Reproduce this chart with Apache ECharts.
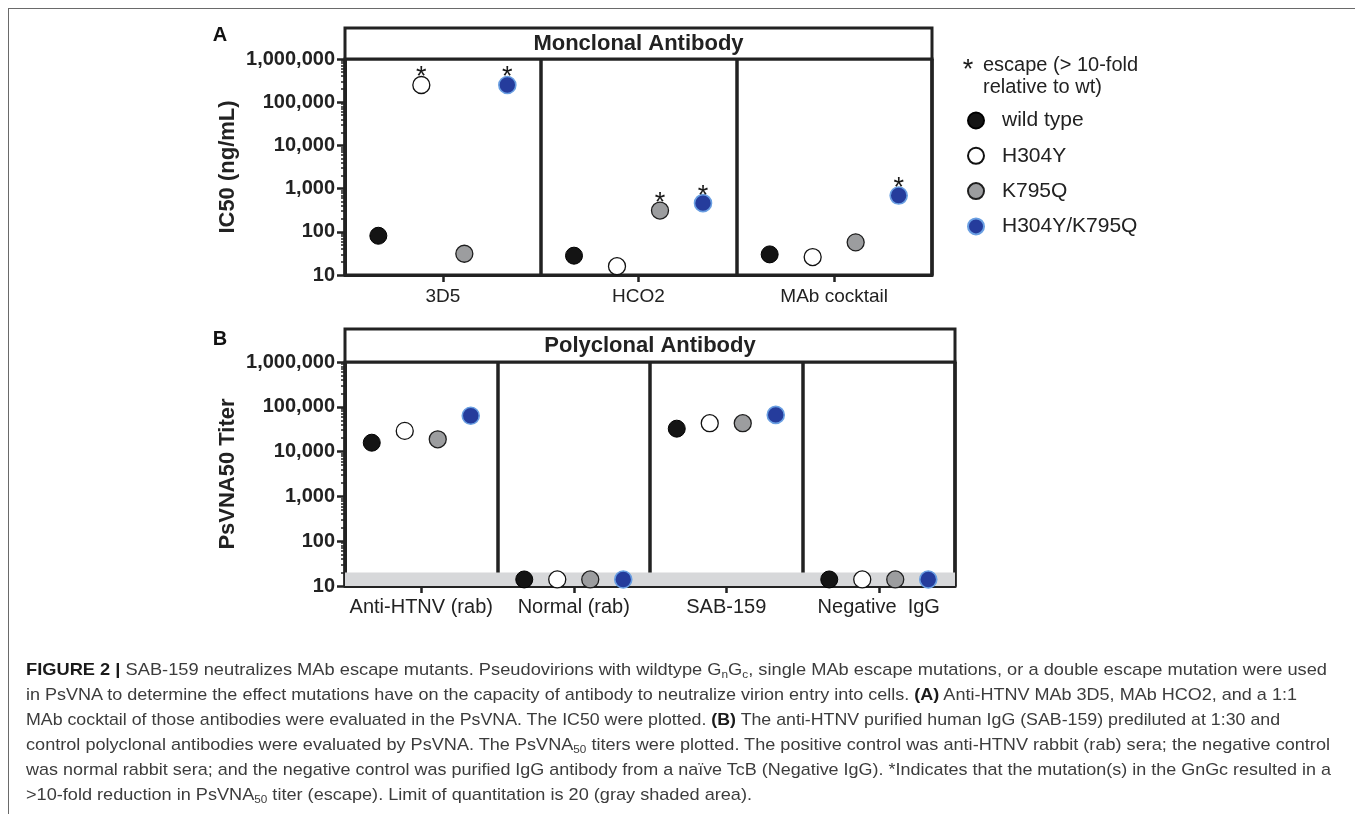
<!DOCTYPE html>
<html>
<head>
<meta charset="utf-8">
<script src="https://cdn.jsdelivr.net/npm/echarts@6/dist/echarts.min.js"></script>
<style>
  html, body { margin: 0; padding: 0; background: #fff; }
  #wrap { position: relative; width: 1355px; height: 814px; overflow: hidden; }
  #chart { position: absolute; left: 0; top: 0; width: 1355px; height: 814px; }
  #frame { position: absolute; left: 8px; top: 8px; width: 1350px; height: 820px;
           border-top: 1.5px solid #6a6a6a; border-left: 1.5px solid #6a6a6a; }
  #caption { position: absolute; left: 26px; top: 657px; width: 1320px; font-family: "Liberation Sans", Arial, sans-serif;
             font-size: 17px; color: #3c3c3c; line-height: 25px; }
  #caption div { white-space: nowrap; height: 25px; }
  #caption span.ln { display: inline-block; white-space: nowrap; transform-origin: 0 50%; }
  #caption b { color: #1a1a1a; }
  #caption sub { font-size: 11px; vertical-align: -3px; line-height: 0; }
</style>
</head>
<body>
<div id="wrap">
  <div id="chart"></div>
  <div id="frame"></div>
  <div id="caption">
    <div><span class="ln" data-end="1327"><b>FIGURE 2 |</b> SAB-159 neutralizes MAb escape mutants. Pseudovirions with wildtype G<sub>n</sub>G<sub>c</sub>, single MAb escape mutations, or a double escape mutation were used</span></div>
    <div><span class="ln" data-end="1297">in PsVNA to determine the effect mutations have on the capacity of antibody to neutralize virion entry into cells. <b>(A)</b> Anti-HTNV MAb 3D5, MAb HCO2, and a 1:1</span></div>
    <div><span class="ln" data-end="1280">MAb cocktail of those antibodies were evaluated in the PsVNA. The IC50 were plotted. <b>(B)</b> The anti-HTNV purified human IgG (SAB-159) prediluted at 1:30 and</span></div>
    <div><span class="ln" data-end="1330">control polyclonal antibodies were evaluated by PsVNA. The PsVNA<sub>50</sub> titers were plotted. The positive control was anti-HTNV rabbit (rab) sera; the negative control</span></div>
    <div><span class="ln" data-end="1331">was normal rabbit sera; and the negative control was purified IgG antibody from a naïve TcB (Negative IgG). *Indicates that the mutation(s) in the GnGc resulted in a</span></div>
    <div><span class="ln" data-end="752">&gt;10-fold reduction in PsVNA<sub>50</sub> titer (escape). Limit of quantitation is 20 (gray shaded area).</span></div>
  </div>
</div>
<script>
// ---------------- data ----------------
const groupsA = ['3D5', 'HCO2', 'MAb cocktail'];
const groupsB = ['Anti-HTNV (rab)', 'Normal (rab)', 'SAB-159', 'Negative  IgG'];
const seriesNames = ['wild type', 'H304Y', 'K795Q', 'H304Y/K795Q'];

// Panel A: IC50 (ng/mL)
const wildTypeA   = [81, 28, 30];
const h304yA      = [250000, 16, 26];
const k795qA      = [31, 310, 57];
const h304yK795qA = [250000, 460, 690];
// escape (> 10-fold relative to wt) flags
const escWildTypeA   = [0, 0, 0];
const escH304yA      = [1, 0, 0];
const escK795qA      = [0, 1, 0];
const escH304yK795qA = [1, 1, 1];

// Panel B: PsVNA50 titer
const wildTypeB   = [15800, 14, 32500, 14];
const h304yB      = [29000, 14, 43000, 14];
const k795qB      = [18800, 14, 43000, 14];
const h304yK795qB = [63000, 14, 66000, 14];

const yMin = 10, yMax = 1000000;
const LOQ = 20; // limit of quantitation
const minorMultipliers = [2, 3, 4, 5, 6, 7, 8, 9];
const decades = [10, 100, 1000, 10000, 100000];

// ---------------- styling ----------------
const FONT = '"Liberation Sans", Arial, sans-serif';
const INK = '#222';
const markerStyles = [
  { color: '#141414', borderColor: '#000', borderWidth: 1, opacity: 1 },
  { color: '#ffffff', borderColor: '#111', borderWidth: 1.3, opacity: 1 },
  { color: '#9c9d9f', borderColor: '#1e1e1e', borderWidth: 1.3, opacity: 1 },
  { color: '#253c9c', borderColor: '#6a9fe2', borderWidth: 1.6, opacity: 1 }
];
const valsA = [wildTypeA, h304yA, k795qA, h304yK795qA];
const escA = [escWildTypeA, escH304yA, escK795qA, escH304yK795qA];
const valsB = [wildTypeB, h304yB, k795qB, h304yK795qB];
const offsetsA = [-64.5, -21.5, 21.5, 64.5];
const offsetsB = [-49.5, -16.5, 16.5, 49.5];

const minorTicks = [];
decades.forEach(d => minorMultipliers.forEach(m => minorTicks.push(d * m)));

const gridA = { left: 345, top: 59, width: 587, height: 216 };
const gridB = { left: 345, top: 362, width: 610, height: 224 };

function fmt(v) { return Math.round(v).toLocaleString('en-US'); }

function mainY(gi, name, gap) {
  return {
    type: 'log', gridIndex: gi, logBase: 10, min: yMin, max: yMax, splitNumber: 5,
    name: name, nameLocation: 'middle', nameGap: gap, nameRotate: 90,
    nameTextStyle: { fontFamily: FONT, fontWeight: 'bold', fontSize: 22, color: INK },
    axisLine: { show: true, lineStyle: { color: INK, width: 3 } },
    axisTick: { show: true, inside: false, length: 8, lineStyle: { color: INK, width: 2.5 } },
    axisLabel: { formatter: fmt, fontFamily: FONT, fontWeight: 'bold', fontSize: 20, color: INK, margin: 10 },
    splitLine: { show: false }
  };
}
function minorY(gi) {
  return {
    type: 'log', gridIndex: gi, logBase: 10, min: yMin, max: yMax, position: 'left',
    axisLine: { show: false },
    axisLabel: { show: false },
    splitLine: { show: false },
    axisTick: { show: true, inside: false, length: 4, customValues: minorTicks, lineStyle: { color: INK, width: 1.5 } }
  };
}
function catX(gi, data, fs, margin) {
  return {
    type: 'category', gridIndex: gi, data: data, boundaryGap: true,
    axisLine: { show: true, lineStyle: { color: INK, width: 3 } },
    axisTick: { show: true, alignWithLabel: true, length: 7, lineStyle: { color: INK, width: 2.5 } },
    axisLabel: { fontFamily: FONT, fontSize: fs, color: INK, margin: margin, interval: 0 },
    splitLine: { show: true, lineStyle: { color: INK, width: 3.5 } }
  };
}

const series = [];
seriesNames.forEach((nm, i) => {
  series.push({
    type: 'scatter', name: nm, xAxisIndex: 0, yAxisIndex: 0, z: 5,
    data: valsA[i].map((v, j) => [groupsA[j], v]),
    symbol: 'circle', symbolSize: 17, symbolOffset: [offsetsA[i], 0],
    itemStyle: markerStyles[i],
    label: {
      show: true, position: 'inside', offset: [0, -7],
      formatter: p => escA[i][p.dataIndex] ? '*' : '',
      fontFamily: FONT, fontSize: 27, color: '#1a1a1a'
    },
    emphasis: { disabled: true }
  });
});
seriesNames.forEach((nm, i) => {
  series.push({
    type: 'scatter', name: nm, xAxisIndex: 1, yAxisIndex: 1, z: 5,
    data: valsB[i].map((v, j) => [groupsB[j], v]),
    symbol: 'circle', symbolSize: 17, symbolOffset: [offsetsB[i], 0],
    itemStyle: markerStyles[i],
    emphasis: { disabled: true }
  });
});
// limit of quantitation band (under the axis lines)
series.push({
  type: 'line', name: 'LOQ', xAxisIndex: 1, yAxisIndex: 1, z: -1, data: [],
  silent: true,
  markArea: {
    silent: true,
    itemStyle: { color: '#d7d8da' },
    data: [[{ yAxis: yMin }, { yAxis: LOQ }]]
  }
});

const option = {
  animation: false,
  backgroundColor: '#fff',
  textStyle: { fontFamily: FONT },
  grid: [
    Object.assign({ show: true, borderColor: INK, borderWidth: 3, backgroundColor: 'transparent', containLabel: false }, gridA),
    Object.assign({ show: true, borderColor: INK, borderWidth: 3, backgroundColor: 'transparent', containLabel: false }, gridB)
  ],
  xAxis: [catX(0, groupsA, 19, 12), catX(1, groupsB, 20, 11)],
  yAxis: [mainY(0, 'IC50 (ng/mL)', 106), mainY(1, 'PsVNA50 Titer', 106), minorY(0), minorY(1)],
  legend: {
    data: seriesNames, orient: 'vertical', left: 962, top: 105,
    itemWidth: 16, itemHeight: 16, itemGap: 14.3,
    icon: 'circle',
    selectedMode: false,
    itemStyle: { opacity: 1 },
    textStyle: { fontFamily: FONT, fontSize: 21, color: INK, lineHeight: 21, padding: [0, 0, 0, 13] }
  },
  graphic: [
    { type: 'rect', z: 10, shape: { x: gridA.left, y: 28, width: gridA.width, height: gridA.top - 28 },
      style: { fill: '#fff', stroke: INK, lineWidth: 3 } },
    { type: 'text', z: 11, x: gridA.left + gridA.width / 2, y: 44,
      style: { text: 'Monclonal Antibody', font: 'bold 22px ' + FONT, fill: INK, align: 'center', verticalAlign: 'middle' } },
    { type: 'rect', z: 10, shape: { x: gridB.left, y: 329, width: gridB.width, height: gridB.top - 329 },
      style: { fill: '#fff', stroke: INK, lineWidth: 3 } },
    { type: 'text', z: 11, x: gridB.left + gridB.width / 2, y: 346,
      style: { text: 'Polyclonal Antibody', font: 'bold 22px ' + FONT, fill: INK, align: 'center', verticalAlign: 'middle' } },
    { type: 'text', x: 220, y: 35,
      style: { text: 'A', font: 'bold 20px ' + FONT, fill: '#111', align: 'center', verticalAlign: 'middle' } },
    { type: 'text', x: 220, y: 339,
      style: { text: 'B', font: 'bold 20px ' + FONT, fill: '#111', align: 'center', verticalAlign: 'middle' } },
    { type: 'text', x: 968, y: 71,
      style: { text: '*', font: '27px ' + FONT, fill: '#1a1a1a', align: 'center', verticalAlign: 'middle' } },
    { type: 'text', x: 983, y: 54,
      style: { text: 'escape (> 10-fold\nrelative to wt)', font: '20px ' + FONT, lineHeight: 22, fill: INK, align: 'left', verticalAlign: 'top' } }
  ],
  series: series
};

const chart = echarts.init(document.getElementById('chart'), null, { renderer: 'canvas' });
chart.setOption(option);

// fit caption lines to the reference line lengths
document.querySelectorAll('#caption span.ln').forEach(s => {
  const end = parseFloat(s.getAttribute('data-end'));
  const w = s.getBoundingClientRect().width;
  const target = end - 26;
  s.style.transform = 'scaleX(' + (target / w).toFixed(4) + ')';
});
</script>
</body>
</html>
